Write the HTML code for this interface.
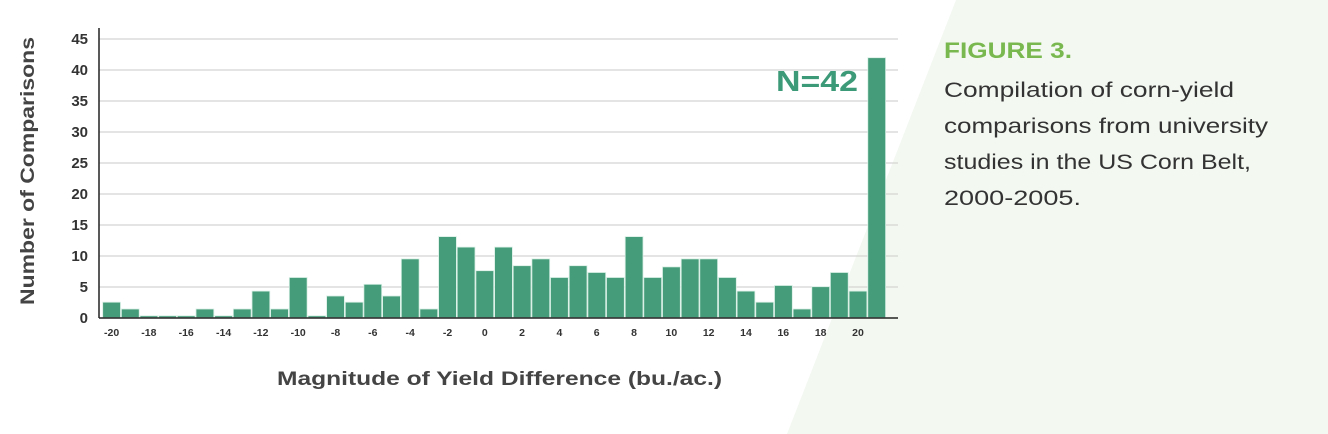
<!DOCTYPE html>
<html><head><meta charset="utf-8"><style>
html,body{margin:0;padding:0;background:#fff;}
svg{display:block;}
</style></head><body>
<svg width="1328" height="434" xmlns="http://www.w3.org/2000/svg" font-family="Liberation Sans, sans-serif">
<rect width="1328" height="434" fill="#fff"/>
<polygon points="956,0 1328,0 1328,434 787,434" fill="#f3f8f1"/>
<g stroke="#d4d4d4" stroke-width="1.2">
<line x1="99" x2="898" y1="39" y2="39"/><line x1="99" x2="898" y1="70" y2="70"/>
<line x1="99" x2="898" y1="101" y2="101"/><line x1="99" x2="898" y1="132" y2="132"/>
<line x1="99" x2="898" y1="163" y2="163"/><line x1="99" x2="898" y1="194" y2="194"/>
<line x1="99" x2="898" y1="225" y2="225"/><line x1="99" x2="898" y1="256" y2="256"/>
<line x1="99" x2="898" y1="287" y2="287"/>
</g>
<g fill="#459c7a" stroke="#d8efe5" stroke-width="0.8">
<rect x="102.7" y="302.2" width="17.8" height="15.5"/>
<rect x="121.4" y="309.0" width="17.8" height="8.7"/>
<rect x="140.0" y="315.8" width="17.8" height="1.9"/>
<rect x="158.7" y="315.8" width="17.8" height="1.9"/>
<rect x="177.3" y="315.8" width="17.8" height="1.9"/>
<rect x="196.0" y="309.0" width="17.8" height="8.7"/>
<rect x="214.7" y="315.8" width="17.8" height="1.9"/>
<rect x="233.3" y="309.0" width="17.8" height="8.7"/>
<rect x="252.0" y="291.1" width="17.8" height="26.6"/>
<rect x="270.6" y="309.0" width="17.8" height="8.7"/>
<rect x="289.3" y="277.5" width="17.8" height="40.2"/>
<rect x="308.0" y="315.8" width="17.8" height="1.9"/>
<rect x="326.6" y="296.0" width="17.8" height="21.7"/>
<rect x="345.3" y="302.2" width="17.8" height="15.5"/>
<rect x="363.9" y="284.3" width="17.8" height="33.4"/>
<rect x="382.6" y="296.0" width="17.8" height="21.7"/>
<rect x="401.3" y="258.9" width="17.8" height="58.8"/>
<rect x="419.9" y="309.0" width="17.8" height="8.7"/>
<rect x="438.6" y="236.6" width="17.8" height="81.1"/>
<rect x="457.2" y="247.1" width="17.8" height="70.6"/>
<rect x="475.9" y="270.7" width="17.8" height="47.0"/>
<rect x="494.6" y="247.1" width="17.8" height="70.6"/>
<rect x="513.2" y="265.7" width="17.8" height="52.0"/>
<rect x="531.9" y="258.9" width="17.8" height="58.8"/>
<rect x="550.5" y="277.5" width="17.8" height="40.2"/>
<rect x="569.2" y="265.7" width="17.8" height="52.0"/>
<rect x="587.9" y="272.5" width="17.8" height="45.2"/>
<rect x="606.5" y="277.5" width="17.8" height="40.2"/>
<rect x="625.2" y="236.6" width="17.8" height="81.1"/>
<rect x="643.8" y="277.5" width="17.8" height="40.2"/>
<rect x="662.5" y="266.9" width="17.8" height="50.8"/>
<rect x="681.2" y="258.9" width="17.8" height="58.8"/>
<rect x="699.8" y="258.9" width="17.8" height="58.8"/>
<rect x="718.5" y="277.5" width="17.8" height="40.2"/>
<rect x="737.1" y="291.1" width="17.8" height="26.6"/>
<rect x="755.8" y="302.2" width="17.8" height="15.5"/>
<rect x="774.5" y="285.5" width="17.8" height="32.2"/>
<rect x="793.1" y="309.0" width="17.8" height="8.7"/>
<rect x="811.8" y="286.7" width="17.8" height="31.0"/>
<rect x="830.4" y="272.5" width="17.8" height="45.2"/>
<rect x="849.1" y="291.1" width="17.8" height="26.6"/>
<rect x="867.8" y="57.7" width="17.8" height="260.0"/>
</g>
<line x1="99" x2="99" y1="28" y2="318" stroke="#222" stroke-width="1.5"/>
<line x1="99" x2="898" y1="318" y2="318" stroke="#222" stroke-width="1.5"/>
<g font-size="15" fill="#333" text-anchor="end" font-weight="bold">
<text x="88" y="44">45</text><text x="88" y="75">40</text><text x="88" y="106">35</text>
<text x="88" y="137">30</text><text x="88" y="168">25</text><text x="88" y="199">20</text>
<text x="88" y="230">15</text><text x="88" y="261">10</text><text x="88" y="292">5</text>
<text x="88" y="323">0</text>
</g>
<g font-size="10.5" fill="#333" text-anchor="middle" font-weight="bold">
<text x="111.6" y="336">-20</text><text x="148.9" y="336">-18</text><text x="186.2" y="336">-16</text>
<text x="223.6" y="336">-14</text><text x="260.9" y="336">-12</text><text x="298.2" y="336">-10</text>
<text x="335.5" y="336">-8</text><text x="372.8" y="336">-6</text><text x="410.2" y="336">-4</text>
<text x="447.5" y="336">-2</text><text x="484.8" y="336">0</text><text x="522.1" y="336">2</text>
<text x="559.4" y="336">4</text><text x="596.7" y="336">6</text><text x="634.1" y="336">8</text>
<text x="671.4" y="336">10</text><text x="708.7" y="336">12</text><text x="746.0" y="336">14</text>
<text x="783.3" y="336">16</text><text x="820.7" y="336">18</text><text x="858.0" y="336">20</text>
</g>
<text x="277" y="385" font-size="19" font-weight="bold" fill="#444" textLength="445" lengthAdjust="spacingAndGlyphs">Magnitude of Yield Difference (bu./ac.)</text>
<text transform="translate(34,305) rotate(-90)" font-size="19" font-weight="bold" fill="#444" textLength="268" lengthAdjust="spacingAndGlyphs">Number of Comparisons</text>
<text x="776" y="91" font-size="29" font-weight="bold" fill="#3d9a78" textLength="82" lengthAdjust="spacingAndGlyphs">N=42</text>
<text x="944" y="58" font-size="22" font-weight="bold" fill="#78b84e" textLength="128" lengthAdjust="spacingAndGlyphs">FIGURE 3.</text>
<g font-size="21" fill="#333" lengthAdjust="spacingAndGlyphs">
<text x="944" y="97" textLength="290" lengthAdjust="spacingAndGlyphs">Compilation of corn-yield</text>
<text x="944" y="133" textLength="324" lengthAdjust="spacingAndGlyphs">comparisons from university</text>
<text x="944" y="169" textLength="307" lengthAdjust="spacingAndGlyphs">studies in the US Corn Belt,</text>
<text x="944" y="205" textLength="137" lengthAdjust="spacingAndGlyphs">2000-2005.</text>
</g>
</svg>
</body></html>
